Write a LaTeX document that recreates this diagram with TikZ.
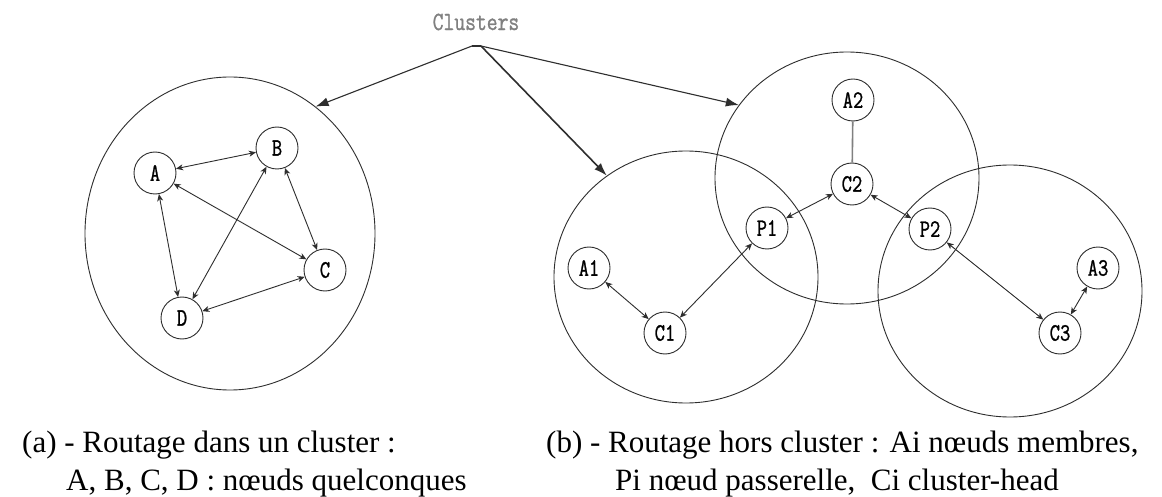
\documentclass[tikz,border=0pt]{standalone}
\usepackage{fontspec}
\usepackage{graphicx}
\setmainfont{Liberation Serif}
\newfontfamily\labelfont[FakeBold=1.2]{Latin Modern Mono}
\usetikzlibrary{arrows.meta,shapes.geometric}
\definecolor{inkline}{gray}{0.18}
\definecolor{softgray}{gray}{0.5}
% tall typewriter lettering used for node labels and the title
\newcommand{\tallmono}[1]{\scalebox{1}[1.25]{\labelfont #1}}
\begin{document}
\begin{tikzpicture}[x=1pt,y=-1pt,
  station/.style={circle,draw=inkline,line width=0.9pt,minimum size=42pt,inner sep=0pt,
    font=\fontsize{20}{20}\selectfont},
  zone/.style={ellipse,draw=inkline,line width=0.9pt,inner sep=0pt},
  link/.style={inkline,line width=0.9pt,{Stealth[length=7pt,width=6pt,inset=2pt]}-{Stealth[length=7pt,width=6pt,inset=2pt]}},
  pointer/.style={inkline,line width=1.1pt,-{Latex[length=13pt,width=9pt]}},
  caption/.style={anchor=base west,inner sep=0pt,font=\fontsize{31}{36}\selectfont}]
\useasboundingbox (0,0) rectangle (1162,497);
\fill[white] (0,0) rectangle (1162,497);

% title and the meeting point of its pointers
\node[text=softgray,font=\fontsize{21}{21}\selectfont] (title) at (476,22) {\tallmono{Clusters}};
\coordinate (apexL) at (472,46);
\coordinate (apexR) at (481,46);
\draw[inkline,line width=1.1pt] (apexL) -- (apexR);

% (a) one cluster
\node[zone,minimum width=290pt,minimum height=313pt] (za) at (230,233.5) {};
\node[station] (A) at (155,173) {\tallmono{A}};
\node[station] (B) at (277,148) {\tallmono{B}};
\node[station] (C) at (325,270) {\tallmono{C}};
\node[station] (D) at (182,318) {\tallmono{D}};
\draw[link] (A) -- (B);
\draw[link] (A) -- (C);
\draw[link] (A) -- (D);
\draw[link] (B) -- (C);
\draw[link] (B) -- (D);
\draw[link] (D) -- (C);

% (b) three overlapping clusters
\node[zone,minimum width=264pt,minimum height=252pt] (z1) at (686,277) {};
\node[zone,minimum width=264pt,minimum height=252pt] (z2) at (847,178) {};
\node[zone,minimum width=264pt,minimum height=252pt] (z3) at (1010,291) {};

\node[station] (A1) at (589,268) {\tallmono{A1}};
\node[station] (C1) at (665,333) {\tallmono{C1}};
\node[station] (P1) at (767,228) {\tallmono{P1}};
\node[station] (C2) at (852,184) {\tallmono{C2}};
\node[station] (A2) at (853,100) {\tallmono{A2}};
\node[station] (P2) at (930,229) {\tallmono{P2}};
\node[station] (C3) at (1060,333) {\tallmono{C3}};
\node[station] (A3) at (1098,268) {\tallmono{A3}};

\draw[softgray,line width=1.6pt] (A2) -- (C2);
\draw[link] (A1) -- (C1);
\draw[link] (C1) -- (P1);
\draw[link] (P1) -- (C2);
\draw[link] (C2) -- (P2);
\draw[link] (P2) -- (C3);
\draw[link] (C3) -- (A3);

\draw[pointer] (apexL) -- (za.56);
\draw[pointer,line width=1.6pt] (apexR) -- (z1.128.6);
\draw[pointer] (apexR) -- (z2.146.9);

% captions
\node[caption] (capa1) at (22,452) {(a) - Routage dans un cluster :};
\node[caption] (capa2) at (66,490) {A, B, C, D : nœuds quelconques};
\node[caption] (capb1) at (546,452) {(b) - Routage hors cluster : Ai nœuds membres,};
\node[caption] (capb2) at (615,490) {Pi nœud passerelle,\ \ Ci cluster-head};
\end{tikzpicture}
\end{document}
